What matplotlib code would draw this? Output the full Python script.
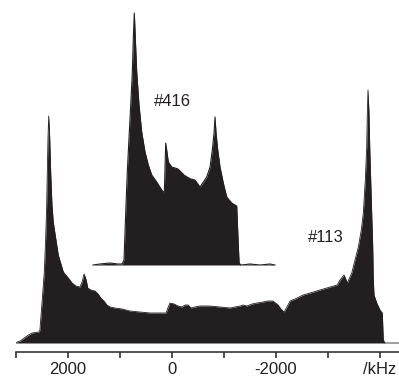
import numpy as np
import matplotlib
matplotlib.use("Agg")
import matplotlib.pyplot as plt

plt.rcParams['font.family'] = ['Liberation Sans', 'DejaVu Sans']

# sample #113 (broad powder pattern), frequency in kHz, intensity in arb. units
freq_113 = [3020, 2920, 2790, 2690, 2560, 2540, 2500, 2456, 2429, 2410, 2398, 2385, 2371,
            2352, 2333, 2308, 2283, 2237, 2187, 2090, 1994, 1920, 1850, 1770, 1730, 1690,
            1650, 1620, 1560, 1480, 1420, 1370, 1310, 1250, 1190, 1100, 960, 810, 620, 420,
            230, 115, 80, 40, -40, -115, -190, -250, -310, -365, -440, -540, -730, -920,
            -1115, -1210, -1310, -1365, -1440, -1540, -1635, -1750, -1845, -1940, -2040,
            -2095, -2155, -2210, -2270, -2365, -2520, -2655, -2845, -3040, -3175, -3231,
            -3308, -3371, -3456, -3519, -3583, -3640, -3679, -3717, -3744, -3756, -3769,
            -3788, -3802, -3821, -3840, -3860, -3871, -3885, -3937, -4000, -4044, -4063,
            -4096, -4365]
int_113 = [0, 2, 7, 10, 11, 13, 40, 71, 105, 138, 171, 205, 227,
           205, 171, 138, 121, 105, 88, 71, 65, 60, 57, 56, 61, 69,
           63, 55, 53, 52, 49, 45, 42, 38, 36, 35, 34, 32, 31, 30,
           30, 30, 35, 40, 39, 37, 36, 38, 38, 35, 36, 37, 37, 36,
           35, 36, 37, 38, 37, 39, 40, 41, 42, 42, 38,
           34, 31, 36, 42, 44, 48, 50, 53, 56, 58, 63,
           68, 60, 70, 83, 96, 113, 130, 163, 196, 230, 253,
           230, 196, 163, 130, 96, 63, 48, 40, 33, 30, 3,
           0, 0]

# sample #416 (narrower pattern, drawn above)
freq_416 = [1520, 1385, 1190, 1040, 960, 923, 885, 860, 827, 794, 763, 744, 725, 706, 679,
            635, 583, 519, 456, 390, 294, 198, 148, 121, 71, 6, -60, -115, -175, -230,
            -290, -365, -442, -538, -667, -731, -775, -808, -827, -846, -879, -923, -986,
            -1052, -1148, -1244, -1270, -1290, -1325, -1500, -1690, -1885, -1980]
int_416 = [0, 1, 2, 1, 1, 5, 60, 93, 127, 160, 193, 227, 252, 227, 193,
           160, 133, 113, 100, 90, 83, 75, 72, 122, 103, 98, 97, 96, 93, 90,
           88, 86, 85, 78, 88, 98, 115, 132, 148, 132, 115, 98, 82,
           68, 62, 59, 25, 2, 0, 1, 0, 1, 0]

tick_pos = [3000, 2000, 1000, 0, -1000, -2000, -3000, -4000]
tick_labels = ['', '2000', '', '0', '', '-2000', '', '/kHz']

ink = '#231f20'
offset_416 = 78

fig = plt.figure(figsize=(3.99, 3.77), dpi=100)
ax = fig.add_axes([16/399, 25/377, 383/399, 352/377])

ax.fill_between(freq_113, 0, int_113, color=ink, lw=0)
ax.plot(freq_113, int_113, color=ink, lw=0.6)

base = np.full(len(int_416), offset_416)
top = np.array(int_416) + offset_416
ax.fill_between(freq_416, base, top, color=ink, lw=0)
ax.plot(freq_416, top, color=ink, lw=0.8)

ax.text(-5, 242, '#416', fontsize=12, ha='center', va='center', color=ink)
ax.text(-2960, 105, '#113', fontsize=12, ha='center', va='center', color=ink)

ax.set_xlim(3000, -4365)
ax.set_ylim(-9, 343)
ax.set_xticks(tick_pos)
ax.set_xticklabels(tick_labels)
ax.set_yticks([])
for s in ['left', 'top', 'right']:
    ax.spines[s].set_visible(False)
ax.spines['bottom'].set_color('#333333')
ax.spines['bottom'].set_linewidth(1.2)
ax.tick_params(axis='x', direction='out', length=4, width=1.2, color='#333333',
               labelsize=12, pad=3, labelcolor=ink)
ax.patch.set_alpha(0)

fig.savefig('out.png', dpi=100)
